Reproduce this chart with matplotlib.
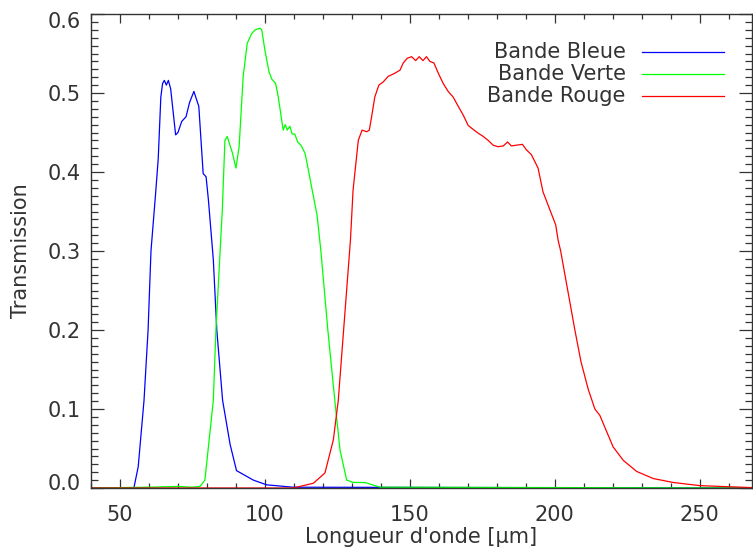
#!/usr/bin/env python

import matplotlib
matplotlib.use('Agg')
import matplotlib.pyplot as plt
from matplotlib.transforms import ScaledTranslation

plt.rcParams['font.family'] = 'DejaVu Sans'
plt.rcParams['font.size'] = 15

TEXT_COLOR = '#333333'

# Transmission curves (wavelength in micron)
blue_x = [40, 54.8, 56.3, 58.3, 59.7, 60.7, 62.3, 63.2, 64.1, 64.7, 65.3, 66.0, 66.7, 67.5,
          69.2, 70.0, 71.3, 72.8, 74.0, 75.5, 77.2, 78.7, 79.7, 80.5, 82.2, 83.4, 85.4,
          88.0, 90.2, 96.0, 100.6, 109.7, 268]
blue_y = [0, 0, 0.027, 0.111, 0.20, 0.30, 0.373, 0.417, 0.495, 0.512, 0.516, 0.510, 0.516, 0.505,
          0.447, 0.450, 0.464, 0.470, 0.488, 0.502, 0.483, 0.398, 0.394, 0.365, 0.289, 0.20, 0.111,
          0.055, 0.022, 0.010, 0.004, 0.001, 0]

green_x = [40, 60, 70, 75, 77.6, 79.3, 82.2, 83.1, 85.3, 86.2, 87.0, 88.8, 90.0, 91.1, 92.5,
           93.9, 95.4, 96.6, 98.3, 98.9, 100.0, 101.4, 102.3, 103.7, 104.6, 106.3, 107.0,
           107.7, 108.6, 109.4, 110.3, 111.3, 112.4, 113.8, 114.6, 116.1, 118.0, 119.3,
           121.7, 124.1, 125.9, 128.2, 130.5, 134.5, 139.7, 268]
green_y = [0, 0.001, 0.002, 0.001, 0.002, 0.010, 0.111, 0.20, 0.352, 0.440, 0.445, 0.424, 0.405,
           0.432, 0.521, 0.563, 0.575, 0.580, 0.582, 0.580, 0.554, 0.527, 0.518, 0.512, 0.495,
           0.453, 0.460, 0.453, 0.458, 0.448, 0.448, 0.438, 0.434, 0.424, 0.410, 0.381, 0.345,
           0.30, 0.20, 0.111, 0.048, 0.010, 0.007, 0.007, 0.001, 0]

red_x = [40, 109.7, 116.7, 120.7, 123.6, 125.3, 129.5, 130.4, 132.2, 133.5, 135.1,
         136.0, 136.8, 137.9, 139.3, 140.8, 142.5, 144.8, 146.6, 147.7, 149.1, 150.6, 152.0,
         153.2, 154.5, 155.7, 156.9, 158.3, 159.8, 161.5, 163.2, 164.9, 166.7, 168.4, 170.1,
         171.8, 173.6, 175.3, 177.0, 178.7, 180.4, 182.2, 183.7, 185.0, 186.8, 188.8, 190.2,
         191.9, 194.2, 195.9, 198.3, 200.3, 201.1, 202.0, 206.9, 209.0, 211.5, 213.8, 215.5,
         220.1, 223.6, 228.2, 233.9, 240.8, 250.0, 259.2, 268]
red_y = [0, 0, 0.006, 0.019, 0.061, 0.111, 0.314, 0.377, 0.440, 0.453, 0.451,
         0.453, 0.470, 0.495, 0.510, 0.514, 0.521, 0.525, 0.529, 0.538, 0.544, 0.546, 0.541,
         0.546, 0.541, 0.546, 0.540, 0.538, 0.525, 0.512, 0.502, 0.495, 0.483, 0.472, 0.459,
         0.454, 0.449, 0.445, 0.440, 0.434, 0.432, 0.433, 0.438, 0.433, 0.434, 0.435, 0.428,
         0.422, 0.405, 0.375, 0.352, 0.333, 0.314, 0.30, 0.20, 0.16, 0.125, 0.10, 0.092,
         0.052, 0.035, 0.021, 0.012, 0.007, 0.003, 0.0017, 0.0005]

labels = ['Bande Bleue', 'Bande Verte', 'Bande Rouge']
colors = ['#0000ff', '#00ff00', '#ff0000']
curves = [(blue_x, blue_y), (green_x, green_y), (red_x, red_y)]

fig = plt.figure(figsize=(7.53, 5.56), dpi=100)
ax = fig.add_axes([0.1208, 0.1223, 0.8779, 0.8525])

for (xs, ys), c in zip(curves, colors):
    ax.plot(xs, ys, color=c, lw=0.9)

ax.set_xlim(40, 268)
ax.set_ylim(0, 0.6)
ax.set_xticks([50, 100, 150, 200, 250])
ax.set_xticks(range(40, 268, 10), minor=True)
ax.set_yticks([0.0, 0.1, 0.2, 0.3, 0.4, 0.5, 0.6])
ax.set_yticks([i / 100 for i in range(61)], minor=True)
ax.set_yticklabels(['0.0', '0.1', '0.2', '0.3', '0.4', '0.5', '0.6'])

for s in ax.spines.values():
    s.set_color(TEXT_COLOR)
    s.set_linewidth(1.0)

ax.tick_params(axis='both', which='both', direction='in', colors=TEXT_COLOR,
               labelcolor=TEXT_COLOR, top=True, right=True, width=0.9)
ax.tick_params(axis='x', which='major', length=6.8, pad=12)
ax.tick_params(axis='x', which='minor', length=3.4)
ax.tick_params(axis='y', which='major', length=9.4, pad=7)
ax.tick_params(axis='y', which='minor', length=4.7)

# IDL keeps the end labels inside the axis range
ylabs = ax.get_yticklabels()
ylabs[0].set_transform(ylabs[0].get_transform() + ScaledTranslation(0, 6 / 100, fig.dpi_scale_trans))
ylabs[-1].set_transform(ylabs[-1].get_transform() + ScaledTranslation(0, -6 / 100, fig.dpi_scale_trans))

ax.set_xlabel("Longueur d'onde [μm]", color=TEXT_COLOR, labelpad=2)
ax.set_ylabel('Transmission', color=TEXT_COLOR, labelpad=12)

# legend drawn IDL style: text right aligned, line on the right
rows = [0.920, 0.873, 0.827]
for lab, c, yy in zip(labels, colors, rows):
    ax.text(0.809, yy, lab, transform=ax.transAxes, ha='right', va='center', color=TEXT_COLOR)
    ax.plot([0.834, 0.958], [yy, yy], transform=ax.transAxes, color=c, lw=0.9)

fig.savefig('out.png', dpi=100)
